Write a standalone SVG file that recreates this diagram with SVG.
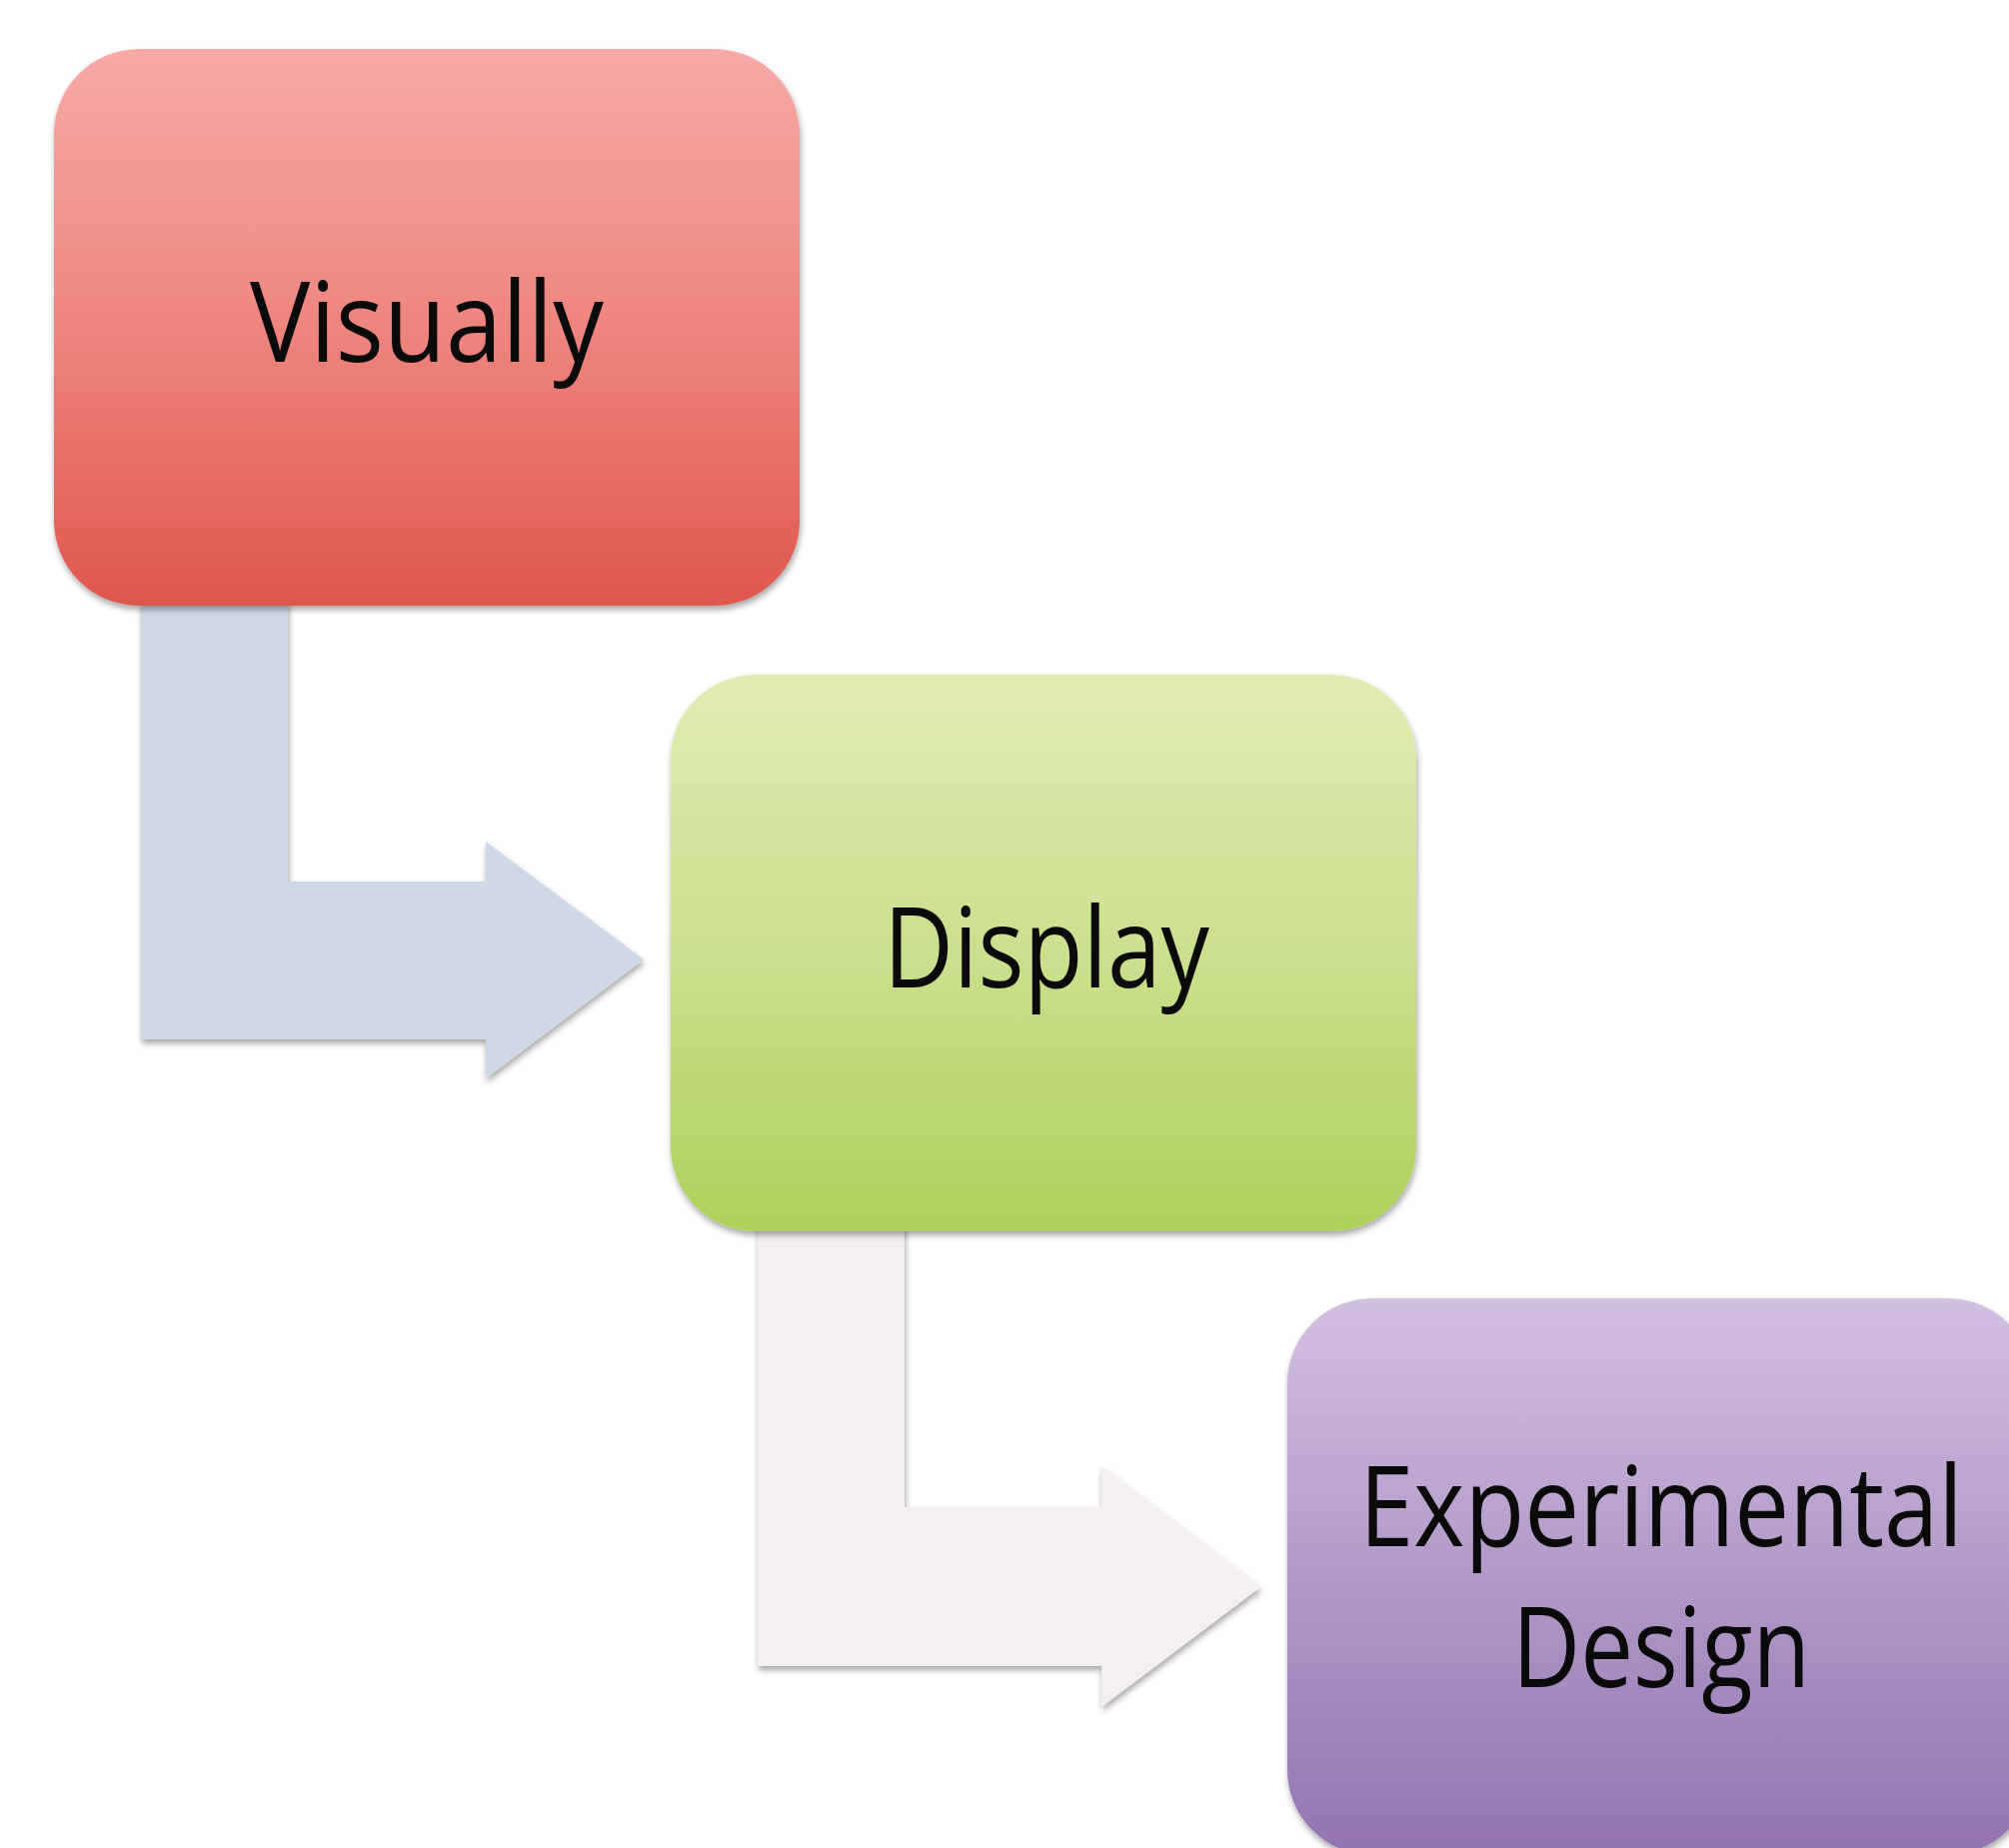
<svg xmlns="http://www.w3.org/2000/svg" width="2010" height="1849" viewBox="0 0 2010 1849">
  <style>
    .lbl { font-family: "Open Sans", "Noto Sans", "Liberation Sans", sans-serif; font-size: 112px; fill: #0a0a0a; text-anchor: middle; }
  </style>
  <defs>
    <linearGradient id="gRed" x1="0" y1="0" x2="0" y2="1">
      <stop offset="0" stop-color="#f7aaa8"/>
      <stop offset="0.5" stop-color="#ee857f"/>
      <stop offset="1" stop-color="#df574c"/>
    </linearGradient>
    <linearGradient id="gGreen" x1="0" y1="0" x2="0" y2="1">
      <stop offset="0" stop-color="#e1ecb3"/>
      <stop offset="0.5" stop-color="#cbe08e"/>
      <stop offset="1" stop-color="#add15a"/>
    </linearGradient>
    <linearGradient id="gPurple" x1="0" y1="0" x2="0" y2="1">
      <stop offset="0" stop-color="#d2c0e1"/>
      <stop offset="0.5" stop-color="#b299c8"/>
      <stop offset="1" stop-color="#9473b1"/>
    </linearGradient>
    <filter id="shadow" x="-10%" y="-10%" width="120%" height="125%">
      <feDropShadow dx="1" dy="4" stdDeviation="3" flood-color="#000" flood-opacity="0.35"/>
    </filter>
  </defs>
  <rect width="2010" height="1849" fill="#ffffff"/>

  <g id="connectors">
    <path id="arrow1" d="M141,600 L288,600 L288,882 L486,882 L486,842 L644,960 L486,1079 L486,1040 L141,1040 Z" fill="#cfd8e7" filter="url(#shadow)"/>
    <path id="arrow2" d="M758,1225 L905,1225 L905,1508 L1102,1508 L1102,1467 L1261,1588 L1102,1708 L1102,1667 L758,1667 Z" fill="#f5f0f0" filter="url(#shadow)"/>
  </g>

  <g id="node-visually">
    <rect x="54" y="49" width="746" height="557" rx="85" ry="85" fill="url(#gRed)" filter="url(#shadow)"/>
    <text class="lbl" x="427" y="362" textLength="354" lengthAdjust="spacingAndGlyphs">Visually</text>
  </g>

  <g id="node-display">
    <rect x="671" y="675" width="746" height="557" rx="85" ry="85" fill="url(#gGreen)" filter="url(#shadow)"/>
    <text class="lbl" x="1047" y="988" textLength="326" lengthAdjust="spacingAndGlyphs">Display</text>
  </g>

  <g id="node-experimental">
    <rect x="1288" y="1299" width="746" height="557" rx="85" ry="85" fill="url(#gPurple)" filter="url(#shadow)"/>
    <text class="lbl" x="1662" y="1547" textLength="604" lengthAdjust="spacingAndGlyphs">Experimental</text>
    <text class="lbl" x="1662" y="1688" textLength="298" lengthAdjust="spacingAndGlyphs">Design</text>
  </g>
</svg>
